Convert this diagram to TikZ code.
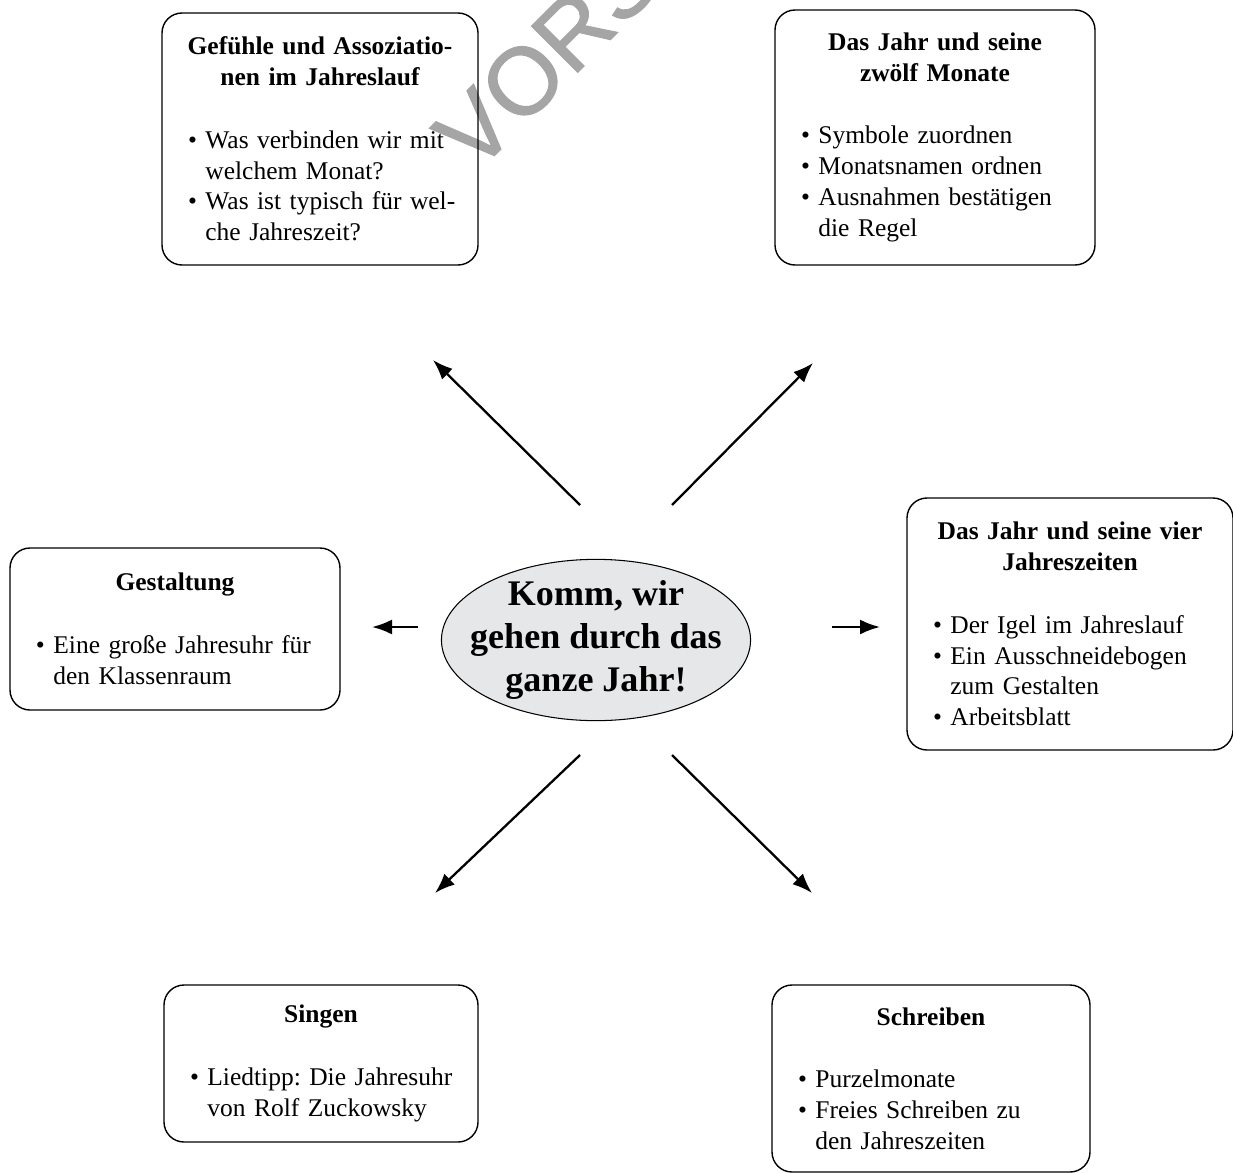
\documentclass[tikz,border=0pt]{standalone}
\usepackage{fontspec}
\setmainfont{Liberation Serif}
\newfontfamily\markfont[FakeBold=1.2]{Liberation Sans}
\usepackage{tikz}
\definecolor{ovalgray}{RGB}{230,231,232}
\definecolor{markgray}{RGB}{165,165,165}
\usetikzlibrary{shapes.geometric,arrows.meta}
\frenchspacing

\newlength\bulletwd
\newcommand{\boxtitle}[1]{{\centering\bfseries #1\par}\vspace{18pt}}
\newcommand{\bitem}[1]{{\raggedright\let\\\newline\leftskip=0.22cm%
    \settowidth{\bulletwd}{\textbullet\ }\hangindent=\bulletwd\hangafter=1%
    \noindent\textbullet\ #1\par}}

\begin{document}
\begin{tikzpicture}[
    themebox/.style={draw, line width=0.8pt, rounded corners=0.4cm, inner xsep=0.3cm, inner ysep=0pt, align=left, font=\fontsize{14.5}{17.6}\selectfont},
    arr/.style={-{Latex[length=4mm,width=3mm]}, line width=1.3pt}
]
    \useasboundingbox (0,0) rectangle (24.66,-23.44);

    % Watermark
    \begin{scope}
        \clip (0,0) rectangle (24.66,-23.44);
        \node[font=\markfont\fontsize{54}{54}\selectfont, text=markgray, rotate=45, anchor=base west, inner sep=0pt] (mark) at (9.5,-3.5) {VORSCHAU};
    \end{scope}

    % Centre
    \node[ellipse, draw, fill=ovalgray, line width=0.6pt, inner xsep=-0.33cm, inner ysep=-0.05cm, align=center, font=\fontsize{20.5}{24.5}\selectfont\bfseries] (hub) at (11.92,-12.8) {Komm, wir\\gehen durch das\\ganze Jahr!};

    % Topic boxes
    \node[themebox, text width=5.72cm, minimum height=5.04cm] (feel) at (6.4,-2.78) {%
        \boxtitle{Gefühle und Assoziatio-\\nen im Jahreslauf}
        \bitem{Was verbinden wir mit\\welchem Monat?}
        \bitem{Was ist typisch für wel-\\che Jahreszeit?}};

    \node[themebox, text width=5.8cm, minimum height=5.1cm] (months) at (18.7,-2.75) {%
        \boxtitle{Das Jahr und seine\\zwölf Monate}
        \bitem{Symbole zuordnen}
        \bitem{Monatsnamen ordnen}
        \bitem{Ausnahmen bestätigen\\die Regel}};

    \node[themebox, text width=6.0cm, minimum height=3.24cm] (design) at (3.5,-12.58) {%
        \boxtitle{Gestaltung}
        \bitem{Eine große Jahresuhr für\\den Klassenraum}};

    \node[themebox, text width=5.92cm, minimum height=5.04cm] (seasons) at (21.4,-12.48) {%
        \boxtitle{Das Jahr und seine vier\\Jahreszeiten}
        \bitem{Der Igel im Jahreslauf}
        \bitem{Ein Ausschneidebogen\\zum Gestalten}
        \bitem{Arbeitsblatt}};

    \node[themebox, text width=5.68cm, minimum height=3.14cm] (sing) at (6.42,-21.27) {%
        \boxtitle{Singen}
        \bitem{Liedtipp: Die Jahresuhr\\von Rolf Zuckowsky}};

    \node[themebox, text width=5.76cm, minimum height=3.74cm] (write) at (18.62,-21.57) {%
        \boxtitle{Schreiben}
        \bitem{Purzelmonate}
        \bitem{Freies Schreiben zu\\den Jahreszeiten}
        \vspace*{0.35cm}};

    % Arrows
    \coordinate (ulA) at (11.6,-10.1);   \coordinate (ulB) at (8.66,-7.2);
    \coordinate (urA) at (13.44,-10.1);  \coordinate (urB) at (16.26,-7.26);
    \coordinate (lA) at (8.36,-12.54);   \coordinate (lB) at (7.44,-12.54);
    \coordinate (rA) at (16.64,-12.54);  \coordinate (rB) at (17.6,-12.54);
    \coordinate (dlA) at (11.6,-15.1);   \coordinate (dlB) at (8.7,-17.86);
    \coordinate (drA) at (13.44,-15.1);  \coordinate (drB) at (16.24,-17.86);
    \foreach \a/\b in {ulA/ulB, urA/urB, lA/lB, rA/rB, dlA/dlB, drA/drB}
        \draw[arr] (\a) -- (\b);
\end{tikzpicture}
\end{document}
